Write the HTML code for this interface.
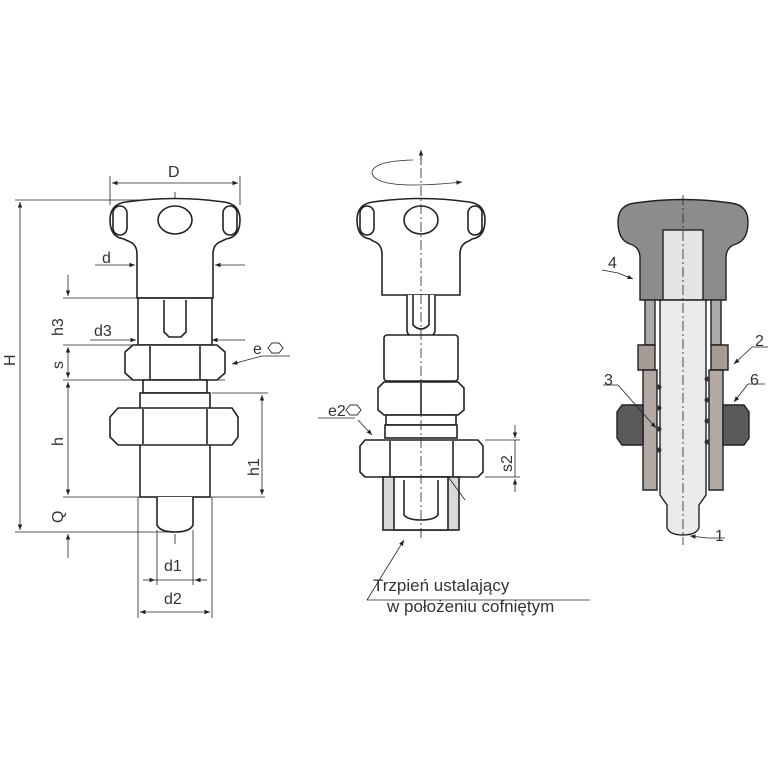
<!DOCTYPE html>
<html><head><meta charset="utf-8"><style>
html,body{margin:0;padding:0;background:#fff;}
svg{display:block;}
text{font-family:"Liberation Sans",sans-serif;fill:#333;}
</style></head><body>
<svg width="768" height="768" viewBox="0 0 768 768" xmlns="http://www.w3.org/2000/svg">
<defs>
<marker id="a" viewBox="0 0 10 10" refX="10" refY="5" markerWidth="7" markerHeight="7" orient="auto-start-reverse"><path d="M0,1 L10,5 L0,9 z" fill="#222"/></marker>
</defs>
<g stroke="#222" fill="none" stroke-width="0.8">
<line x1="110" y1="176" x2="110" y2="205"/><line x1="240" y1="176" x2="240" y2="205"/>
<line x1="112" y1="183" x2="238" y2="183" marker-start="url(#a)" marker-end="url(#a)"/>
<line x1="15" y1="200" x2="150" y2="200"/>
<line x1="20" y1="202" x2="20" y2="530" marker-start="url(#a)" marker-end="url(#a)"/>
<line x1="15" y1="532" x2="170" y2="532"/>
<line x1="95" y1="265" x2="135" y2="265" marker-end="url(#a)"/><line x1="245" y1="265" x2="215" y2="265" marker-end="url(#a)"/>
<line x1="90" y1="340" x2="136" y2="340" marker-end="url(#a)"/><line x1="245" y1="340" x2="212" y2="340" marker-end="url(#a)"/>
<line x1="63" y1="298" x2="140" y2="298"/>
<line x1="63" y1="345" x2="215" y2="345"/>
<line x1="63" y1="380" x2="225" y2="380"/>
<line x1="63" y1="497" x2="265" y2="497"/>
<line x1="212" y1="393" x2="268" y2="393"/>
<line x1="68" y1="275" x2="68" y2="296" marker-end="url(#a)"/>
<line x1="68" y1="347" x2="68" y2="378" marker-start="url(#a)" marker-end="url(#a)"/>
<line x1="68" y1="382" x2="68" y2="495" marker-start="url(#a)" marker-end="url(#a)"/>
<line x1="68" y1="534" x2="68" y2="558" marker-start="url(#a)"/>
<line x1="262" y1="395" x2="262" y2="495" marker-start="url(#a)" marker-end="url(#a)"/>
<line x1="157" y1="530" x2="157" y2="585"/><line x1="193" y1="530" x2="193" y2="585"/>
<line x1="143" y1="580" x2="155" y2="580" marker-end="url(#a)"/><line x1="207" y1="580" x2="195" y2="580" marker-end="url(#a)"/>
<line x1="155" y1="580" x2="195" y2="580"/>
<line x1="138" y1="497" x2="138" y2="618"/><line x1="212" y1="497" x2="212" y2="618"/>
<line x1="140" y1="612" x2="210" y2="612" marker-start="url(#a)" marker-end="url(#a)"/>
<line x1="290" y1="356" x2="262" y2="356"/><line x1="262" y1="356" x2="232" y2="364" marker-end="url(#a)"/>
<line x1="175" y1="192" x2="175" y2="545" stroke-dasharray="10,3,2,3"/>
</g>
<g stroke="#222" fill="#fff" stroke-width="1.6">
<path d="M137,298 L137,254 Q137,244 128,241 L124,239 Q110,237 110,220 Q110,204 126,202 Q175,195 224,202 Q240,204 240,220 Q240,237 226,239 L222,241 Q213,244 213,254 L213,298 Z"/>
<rect x="113" y="206" width="14" height="29" rx="7"/><rect x="223" y="206" width="14" height="29" rx="7"/>
<ellipse cx="175" cy="220" rx="17" ry="14"/>
<rect x="138" y="298" width="74" height="47"/>
<path d="M164,300 L164,332 L169,337 L181,337 L186,332 L186,300"/>
<path d="M125,352 L133,345 L217,345 L225,352 L225,373 L217,380 L133,380 L125,373 Z"/>
<line x1="150" y1="346" x2="150" y2="379"/><line x1="200" y1="346" x2="200" y2="379"/>
<rect x="143" y="380" width="64" height="13"/>
<rect x="140" y="393" width="70" height="104"/>
<path d="M110,417 L118,408 L232,408 L238,417 L238,437 L232,445 L118,445 L110,437 Z"/>
<line x1="143" y1="409" x2="143" y2="444"/><line x1="207" y1="409" x2="207" y2="444"/>
<path d="M157,497 L157,525 Q160,532 175,532 Q190,532 193,525 L193,497"/>
<path d="M382,295 L382,254 Q382,244 373,241 L370,239 Q357,237 357,220 Q357,204 373,202 Q421,195 469,202 Q485,204 485,220 Q485,237 472,239 L469,241 Q460,244 460,254 L460,295 Z"/>
<rect x="360" y="206" width="14" height="29" rx="7"/><rect x="468" y="206" width="14" height="29" rx="7"/>
<ellipse cx="421" cy="220" rx="17" ry="14"/>
<path d="M407,295 L407,330 Q407,338 421,338 Q435,338 435,330 L435,295"/>
<path d="M413,295 L413,325 Q421,333 429,325 L429,295"/>
<rect x="384" y="335" width="74" height="46" rx="3"/>
<path d="M378,388 L384,382 L458,382 L464,388 L464,410 L458,415 L384,415 L378,410 Z"/>
<line x1="421" y1="383" x2="421" y2="414"/>
<rect x="386" y="415" width="70" height="10"/>
<rect x="385" y="425" width="72" height="13"/>
<path d="M360,446 L365,440 L478,440 L483,446 L483,472 L478,477 L365,477 L360,472 Z"/>
<line x1="390" y1="441" x2="390" y2="476"/><line x1="453" y1="441" x2="453" y2="476"/>
<rect x="383" y="477" width="76" height="53" fill="#d8d8d8"/>
<rect x="394" y="477" width="54" height="53"/>
<path d="M404,480 L404,515 Q408,520 421,520 Q434,520 438,515 L438,480"/>
</g>
<g stroke="#222" fill="none" stroke-width="0.8">
<line x1="421" y1="150" x2="421" y2="540" stroke-dasharray="10,3,2,3"/>
<line x1="421" y1="165" x2="421" y2="150" marker-end="url(#a)"/>
<path d="M413,160 Q372,161 372,173 Q376,191 462,182" marker-end="url(#a)"/>
<line x1="318" y1="418" x2="355" y2="418"/><line x1="358" y1="420" x2="372" y2="435" marker-end="url(#a)"/>
<line x1="485" y1="440" x2="520" y2="440"/><line x1="485" y1="477" x2="520" y2="477"/>
<line x1="515" y1="425" x2="515" y2="438" marker-end="url(#a)"/><line x1="515" y1="492" x2="515" y2="479" marker-end="url(#a)"/>
<line x1="515" y1="440" x2="515" y2="477"/>
<line x1="449" y1="478" x2="465" y2="500"/>
<line x1="367" y1="600" x2="404" y2="540" marker-end="url(#a)"/>
<line x1="367" y1="600" x2="590" y2="600"/>
</g>
<g stroke="#222" stroke-width="1.4">
<path d="M640,300 L640,258 Q640,247 630,244 Q618,240 618,222 Q618,205 635,203 Q683,196 731,203 Q748,205 748,222 Q748,240 736,244 Q726,247 726,258 L726,300 Z" fill="#8c8c8c"/>
<rect x="663" y="230" width="40" height="70" fill="#e4e4e4"/>
<rect x="645" y="300" width="10" height="45" fill="#aaa"/><rect x="711" y="300" width="10" height="45" fill="#aaa"/>
<path d="M638,345 L655,345 L655,370 L638,370 Z" fill="#a49c94"/>
<path d="M711,345 L728,345 L728,370 L711,370 Z" fill="#a49c94"/>
<path d="M643,370 L657,370 L657,490 L643,490 Z" fill="#b2aaa2"/>
<path d="M709,370 L723,370 L723,490 L709,490 Z" fill="#b2aaa2"/>
<path d="M617,412 L622,405 L643,405 L643,445 L622,445 L617,438 Z" fill="#5a5a5a"/>
<path d="M723,405 L744,405 L749,412 L749,438 L744,445 L723,445 Z" fill="#5a5a5a"/>
<path d="M660,300 L706,300 L706,495 L699,505 L699,528 Q696,535 683,535 Q670,535 667,528 L667,505 L660,495 Z" fill="#eaeaea"/>
</g>
<g fill="#333">
<circle cx="659" cy="387" r="2.5"/><circle cx="659" cy="408" r="2.5"/><circle cx="659" cy="429" r="2.5"/><circle cx="659" cy="450" r="2.5"/>
<circle cx="707" cy="379" r="2.5"/><circle cx="707" cy="400" r="2.5"/><circle cx="707" cy="421" r="2.5"/><circle cx="707" cy="442" r="2.5"/>
</g>
<g stroke="#222" fill="none" stroke-width="0.8">
<line x1="683" y1="195" x2="683" y2="545" stroke-dasharray="10,3,2,3"/>
<line x1="602" y1="270" x2="618" y2="273"/><line x1="618" y1="273" x2="633" y2="279" marker-end="url(#a)"/>
<line x1="768" y1="347" x2="752" y2="347"/><line x1="752" y1="347" x2="734" y2="364" marker-end="url(#a)"/>
<line x1="765" y1="384" x2="748" y2="384"/><line x1="748" y1="384" x2="734" y2="402" marker-end="url(#a)"/>
<line x1="603" y1="385" x2="618" y2="385"/><line x1="618" y1="385" x2="656" y2="428" marker-end="url(#a)"/>
<line x1="725" y1="538" x2="708" y2="538"/><line x1="708" y1="538" x2="690" y2="536" marker-end="url(#a)"/>
</g>
<g font-size="16">
<text x="168" y="177">D</text>
<text x="102" y="263">d</text>
<text x="94" y="336">d3</text>
<text x="253" y="354">e</text>
<text x="164" y="571">d1</text>
<text x="164" y="604">d2</text>
<text x="328" y="416">e2</text>
<text x="608" y="268">4</text>
<text x="755" y="346">2</text>
<text x="604" y="385">3</text>
<text x="750" y="385">6</text>
<text x="715" y="541">1</text>
<text x="373" y="591" font-size="17">Trzpień ustalający</text>
<text x="387" y="612" font-size="17">w położeniu cofniętym</text>
<text transform="translate(15,366) rotate(-90)">H</text>
<text transform="translate(63,336) rotate(-90)">h3</text>
<text transform="translate(63,369) rotate(-90)">s</text>
<text transform="translate(63,446) rotate(-90)">h</text>
<text transform="translate(63,523) rotate(-90)">Q</text>
<text transform="translate(259,476) rotate(-90)">h1</text>
<text transform="translate(512,472) rotate(-90)">s2</text>
</g>
<g stroke="#333" fill="none" stroke-width="1">
<polygon points="268,348 272,343 279,343 283,348 279,353 272,353"/>
<polygon points="346,410 350,405 357,405 361,410 357,415 350,415"/>
</g>
</svg>
</body></html>
